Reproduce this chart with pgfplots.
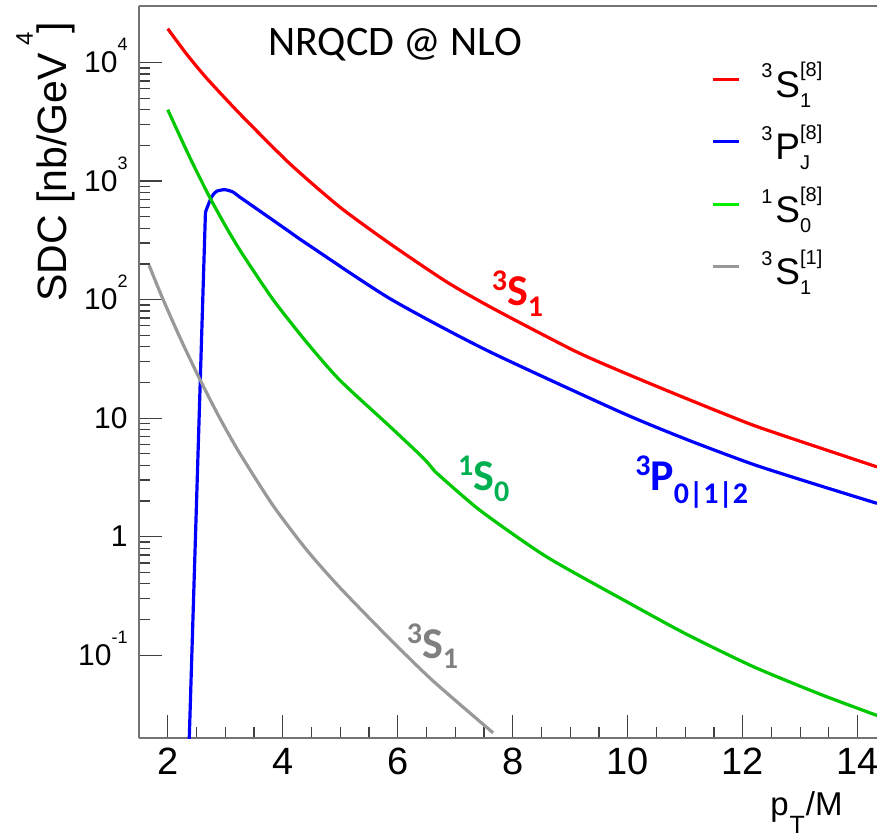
\documentclass[border=0pt]{standalone}
\usepackage{pgfplots}
\pgfplotsset{compat=1.18}
\usepackage{fontspec}
\setmainfont{Liberation Sans}
\newfontfamily\calibri{Carlito}

\definecolor{cRed}{RGB}{255,0,0}
\definecolor{cBlue}{RGB}{0,0,255}
\definecolor{cGreen}{RGB}{0,200,0}
\definecolor{cGreenLeg}{RGB}{0,240,0}
\definecolor{cGray}{RGB}{153,153,153}
\definecolor{tGreen}{RGB}{0,176,80}
\definecolor{tGray}{RGB}{128,128,128}

% exponent on the y tick labels
\newcommand{\ysup}[1]{\smash{\raisebox{11pt}{\fontsize{9}{9}\selectfont #1}}}
% spectroscopic notation in the legend: ^{pre}X_{sub}^{sup}
\newcommand{\wave}[4]{\smash{\raisebox{9.6pt}{\fontsize{10}{10}\selectfont #1}\hspace{1.5pt}{\fontsize{18.5}{18.5}\selectfont #2}\rlap{\raisebox{-5pt}{\fontsize{10}{10}\selectfont #4}}\raisebox{10.3pt}{\fontsize{10}{10}\selectfont #3}}}
% coloured curve tags
\newcommand{\tag}[4]{{\calibri\bfseries{\fontsize{15}{15}\selectfont\raisebox{7.5pt}{#1}}{\fontsize{22}{22}\selectfont #2}{\fontsize{15}{15}\selectfont\raisebox{#4}{#3}}}}

\begin{document}
\begin{tikzpicture}
\begin{axis}[
  name=ax,
  scale only axis, width=369pt, height=366pt,
  xmin=1.5, xmax=14.337,
  ymode=log, ymin=0.02, ymax=30000,
  clip mode=individual,
  axis x line*=box, axis y line*=left,
  axis line style={-, black!55, line width=0.8pt},
  xtick={2,4,6,8,10,12,14}, minor x tick num=3, xtick pos=left,
  ytick={0.1,1,10,100,1000,10000},
  yticklabels={10\ysup{-1},1,10,10\ysup{2},10\ysup{3},10\ysup{4}},
  tick align=inside,
  major tick length=11.5pt, minor tick length=5.5pt,
  every tick/.style={black!75, line width=0.6pt},
  /pgf/number format/assume math mode=true,
  xticklabel style={font=\fontsize{19}{19}\selectfont, inner sep=0pt, yshift=-5pt},
  yticklabel style={font=\fontsize{15}{15}\selectfont, inner sep=0pt, xshift=-5.5pt},
  legend image code/.code={\draw[#1, line width=1.5pt] (0pt,6.5pt) -- (13pt,6.5pt);},
  legend cell align=left,
  legend style={at={(0.776,0.911)}, anchor=north west, draw=none, fill=none,
    inner sep=0pt, outer sep=0pt, row sep=10.3pt,
    nodes={inner sep=0pt, outer sep=0pt, text height=13pt, text depth=8pt},
    /tikz/every odd column/.append style={column sep=10.3pt}},
  every axis plot/.append style={line width=1.6pt, line join=round},
]
% colour-octet 3S1
\addplot[cRed, smooth, tension=0.4, forget plot] coordinates {
  (2.000,19300) (2.330,11750) (2.673,7413) (3.253,3700) (4.123,1402) (4.993,604)
  (5.863,297) (6.849,141.3) (7.660,84.1) (9.053,37.4) (9.865,25.0)
  (11.025,14.6) (12.185,8.71) (13.345,5.61) (14.337,3.88)};
% colour-octet 3PJ: threshold rise, then the smooth fall
\addplot[cBlue, forget plot] coordinates {(2.35,0.0082) (2.656,548)};
\addplot[cBlue, smooth, tension=0.4, forget plot] coordinates {
  (2.656,548) (2.761,733) (2.848,819) (2.992,846) (3.136,808) (3.253,733)
  (3.543,585) (3.832,467) (4.123,372) (4.413,297) (5.863,102) (7.546,37.4)
  (9.865,11.3) (11.025,6.61) (12.185,4.07) (13.345,2.69) (14.337,1.91)};
% colour-octet 1S0
\addplot[cGreen, smooth, tension=0.4, forget plot] coordinates {
  (2.000,4000) (2.383,1585) (2.731,728) (3.021,405) (3.293,245) (3.832,100)
  (4.413,43.8) (4.993,20.9) (5.863,8.51) (6.442,4.62) (6.646,3.55)};
\addplot[cGreen, smooth, tension=0.4, forget plot] coordinates {
  (6.646,3.55) (7.429,1.67) (8.589,0.676) (10.039,0.273) (11.025,0.150)
  (12.185,0.080) (13.345,0.0469) (14.337,0.031)};
% colour-singlet 3S1
\addplot[cGray, smooth, tension=0.4, forget plot] coordinates {
  (1.675,195) (1.901,105) (2.209,48.2) (2.557,21.3) (2.905,10.0) (3.253,5.04)
  (3.832,1.83) (4.413,0.776) (4.993,0.372) (5.863,0.137) (6.616,0.0605)
  (7.660,0.0221)};

\addlegendimage{cRed}
\addlegendimage{cBlue}
\addlegendimage{cGreenLeg}
\addlegendimage{cGray}
\legend{{\wave{3}{S}{[8]}{1}},{\wave{3}{P}{[8]}{J}},{\wave{1}{S}{[8]}{0}},{\wave{3}{S}{[1]}{1}}}

\node[anchor=base west, inner sep=0pt] at (axis cs:3.74,11480)
  {\calibri\fontsize{21}{21}\selectfont NRQCD @ NLO};
\node[anchor=base west, inner sep=0pt, text=cRed] at (axis cs:7.63,89.5) {\tag{3}{S}{1}{-5.5pt}};
\node[anchor=base west, inner sep=0pt, text=cBlue] at (axis cs:10.126,2.47) {\tag{3}{P}{0|1|2}{-6.5pt}};
\node[anchor=base west, inner sep=0pt, text=tGreen] at (axis cs:7.046,2.47) {\tag{1}{S}{0}{-5.8pt}};
\node[anchor=base west, inner sep=0pt, text=tGray] at (axis cs:6.154,0.0946) {\tag{3}{S}{1}{-5pt}};

% axis titles
\node[rotate=90, anchor=base east, inner sep=0pt] at (rel axis cs:-0.0976,0.978)
  {\fontsize{20.5}{20.5}\selectfont SDC [nb/GeV\hspace{4pt}\raisebox{17pt}{\fontsize{12}{12}\selectfont 4}\hspace{-1pt}]};
\node[anchor=base east, inner sep=0pt] at (rel axis cs:0.9539,-0.1052)
  {\fontsize{16.5}{16.5}\selectfont p\hspace{0.5pt}\raisebox{-9pt}{\fontsize{12.5}{12.5}\selectfont T}\hspace{0.5pt}/M};
\end{axis}

\pgfresetboundingbox
\path ([xshift=-69.5pt, yshift=-49.5pt]ax.south west) rectangle ([yshift=3pt]ax.north east);
\end{tikzpicture}
\end{document}
